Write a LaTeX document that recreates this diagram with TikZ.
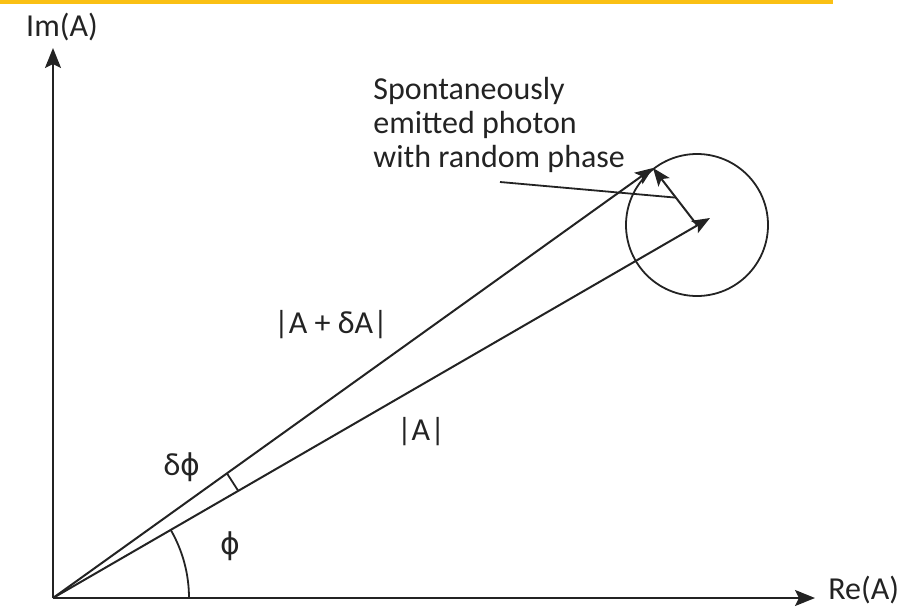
\documentclass[tikz,border=0pt]{standalone}
\usepackage{fontspec}
\setmainfont{Carlito}
\newfontfamily\symfont{DejaVu Sans}
\usepackage{xcolor}
\usepackage{tikz}
\usetikzlibrary{arrows.meta, positioning, calc}
\definecolor{barorange}{RGB}{250, 192, 20}
\definecolor{inkgray}{RGB}{35, 35, 35}
\newcommand{\phaseglyph}{{\symfont\fontsize{15}{17}\selectfont ϕ}}

\begin{document}
\begin{tikzpicture}[x=0.5pt, y=0.5pt,
    axis/.style={line width=1pt, draw=inkgray, -{Stealth[length=10pt, width=8pt, inset=2pt]}},
    vec/.style={line width=1pt, draw=inkgray, -{Stealth[length=9pt, width=7pt, inset=2pt]}},
    thin line/.style={line width=0.9pt, draw=inkgray},
    lbl/.style={font=\fontsize{16}{17}\selectfont, text=inkgray, inner sep=0pt}]
\useasboundingbox (0,0) rectangle (920,612);

% top bar
\fill[barorange] (0,608) rectangle (833,612);

% axes
\coordinate (O) at (53,14);
\coordinate (reend) at (815,14);
\coordinate (imend) at (53,564);
\draw[axis] (O) -- (reend);
\draw[axis] (O) -- (imend);
\node[lbl, anchor=west] (relabel) at (828,22) {Re(A)};
\node[lbl] (imlabel) at (62,585) {Im(A)};

% field vectors
\coordinate (C) at (697,387);
\coordinate (A) at (710,394);
\coordinate (B) at (653,444);
\draw[thin line] (C) circle[radius=71];
\draw[vec] (O) -- (A);
\draw[vec] (O) -- (B);
\draw[vec] (C) -- (B);

% angles
\draw[thin line] ($(O)+(136,0)$) arc[start angle=0, end angle=30.0, radius=136];
\draw[thin line] ($(O)+(30.0:214)$) -- ($(O)+(35.56:214)$);

% labels
\node[lbl] (absA) at (421,180) {|A|};
\node[lbl] (absAdA) at (331,287) {|A + δA|};
\node[lbl] (dphi) at (182,145) {δ\phaseglyph};
\node[lbl] (phi) at (230,66) {\phaseglyph};

% note on the photon
\node[lbl, anchor=north west, align=left] (note) at (373,535)
    {Spontaneously\\emitted photon\\with random phase};
\coordinate (hit) at ($(C)!0.48!(B)$);
\draw[thin line] (500,430) -- (hit);
\end{tikzpicture}
\end{document}
